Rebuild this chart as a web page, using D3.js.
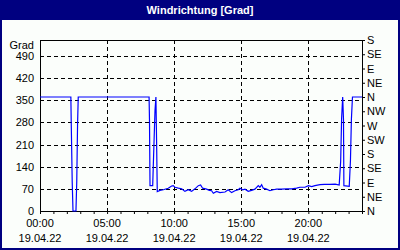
<!DOCTYPE html>
<html>
<head>
<meta charset="utf-8">
<script src="https://cdn.jsdelivr.net/npm/d3@7"></script>
<style>
  body { margin: 0; background: #fff; }
  svg { display: block; font-family: "Liberation Sans", Arial, sans-serif; }
</style>
</head>
<body>
<div id="chart"></div>
<script>
// wind direction readings (hour of day, degrees)
const hours = [
  0, 2.30, 2.33, 2.40, 2.46, 2.68, 2.74, 2.80, 2.85,
  8.13, 8.16, 8.20, 8.40, 8.44, 8.57, 8.64, 8.69, 8.74,
  8.94, 9.19, 9.56, 9.81, 9.93, 10.06, 10.31, 10.56, 10.80, 11.05, 11.30,
  11.55, 11.80, 11.97, 12.12, 12.42, 12.62, 12.79, 12.92, 13.16, 13.41,
  13.79, 14.03, 14.28, 14.53, 14.78, 14.90, 15.10, 15.28, 15.52, 15.77,
  16.02, 16.27, 16.39, 16.52, 16.64, 16.89, 17.14, 17.39, 17.64, 18.01,
  18.38, 18.76, 19.13, 19.37, 19.75, 20.00, 20.25, 20.49, 20.87, 21.20,
  21.60, 22.00, 22.30, 22.41, 22.48, 22.56, 22.62, 22.65, 23.05, 23.14,
  23.21, 23.29, 24
];
const directions = [
  360, 360, 274, 93, 0, 0, 93, 274, 360,
  360, 290, 80, 80, 137, 316, 360, 220, 61,
  65, 67, 72, 79, 80, 75, 72, 70, 62, 67, 62,
  70, 80, 82, 72, 69, 65, 64, 56, 62, 58,
  60, 67, 58, 64, 67, 72, 67, 69, 62, 65,
  69, 80, 75, 83, 72, 69, 64, 67, 69, 69,
  70, 70, 72, 75, 75, 80, 77, 80, 83, 84,
  84, 85, 82, 157, 292, 360, 290, 80, 78, 160,
  290, 360, 360
];

const degreeTicks = [0, 70, 140, 210, 280, 350, 420, 490];
const compassTicks = [0, 45, 90, 135, 180, 225, 270, 315, 360, 405, 450, 495, 540];
const compassLabels = ["N", "NE", "E", "SE", "S", "SW", "W", "NW", "N", "NE", "E", "SE", "S"];
const timeTicks = [0, 5, 10, 15, 20];
const timeLabels = ["00:00", "05:00", "10:00", "15:00", "20:00"];
const dateLabel = "19.04.22";
const chartTitle = "Windrichtung [Grad]";
const unitLabel = "Grad";

const data = hours.map((h, i) => ({ hour: h, value: directions[i] }));

const W = 400, H = 250;
const margin = { top: 40, right: 38, bottom: 39, left: 40 };
const width = W - margin.left - margin.right,
  height = H - margin.top - margin.bottom;

const svg = d3
  .select("#chart")
  .append("svg")
  .attr("width", W)
  .attr("height", H);

// window frame + title bar
svg.append("rect")
  .attr("x", 1).attr("y", 1).attr("width", W - 2).attr("height", H - 2)
  .attr("fill", "#fbfefb").attr("stroke", "#000080").attr("stroke-width", 2);
svg.append("rect")
  .attr("x", 0).attr("y", 0).attr("width", W).attr("height", 20)
  .attr("fill", "#000080");
svg.append("text")
  .attr("x", W / 2).attr("y", 10).attr("dy", "0.35em")
  .attr("text-anchor", "middle")
  .attr("fill", "#fff")
  .style("font-weight", "bold")
  .style("font-size", "11px")
  .text(chartTitle);

const g = svg.append("g")
  .attr("transform", `translate(${margin.left},${margin.top})`);

const x = d3.scaleLinear().domain([0, 24]).range([0, width]);
const y = d3.scaleLinear().domain([0, 540]).range([height, 0]);

// dashed grid
g.append("g")
  .selectAll("line")
  .data(degreeTicks.filter((d) => d > 0))
  .join("line")
  .attr("x1", 0).attr("x2", width)
  .attr("y1", (d) => Math.round(y(d)) + 0.5)
  .attr("y2", (d) => Math.round(y(d)) + 0.5)
  .attr("stroke", "#000").attr("stroke-dasharray", "4,3");
g.append("g")
  .selectAll("line")
  .data(timeTicks.filter((d) => d > 0))
  .join("line")
  .attr("x1", (d) => Math.round(x(d)) + 0.5)
  .attr("x2", (d) => Math.round(x(d)) + 0.5)
  .attr("y1", 0).attr("y2", height)
  .attr("stroke", "#000").attr("stroke-dasharray", "4,3");

// left axis: labels only
const left = g.append("g")
  .call(d3.axisLeft(y).tickValues(degreeTicks).tickSize(0).tickPadding(6));
left.select(".domain").remove();
left.selectAll("text").style("font-size", "11px").attr("fill", "#000");
g.append("text")
  .attr("x", -6).attr("y", 5).attr("dy", "0.35em")
  .attr("text-anchor", "end")
  .style("font-size", "11px")
  .text(unitLabel);

// bottom axis: hourly ticks, labels every 5h
const bottom = g.append("g")
  .attr("transform", `translate(0,${height})`)
  .call(d3.axisBottom(x).tickValues(d3.range(0, 25)).tickSize(3).tickSizeOuter(0).tickFormat(""));
bottom.selectAll("line").attr("stroke", "#000");
bottom.select(".domain").attr("stroke", "#000");

const labels = g.append("g").style("font-size", "11px");
labels.selectAll(".time")
  .data(timeTicks)
  .join("text")
  .attr("class", "time")
  .attr("x", (d) => x(d)).attr("y", height + 12).attr("dy", "0.35em")
  .attr("text-anchor", "middle")
  .text((d, i) => timeLabels[i]);
labels.selectAll(".date")
  .data(timeTicks)
  .join("text")
  .attr("class", "date")
  .attr("x", (d) => x(d)).attr("y", height + 27).attr("dy", "0.35em")
  .attr("text-anchor", "middle")
  .text(dateLabel);

// right axis: compass points
const right = g.append("g")
  .attr("transform", `translate(${width},0)`)
  .call(d3.axisRight(y).tickValues(compassTicks).tickSize(3).tickSizeOuter(0).tickPadding(2)
    .tickFormat((d, i) => compassLabels[i]));
right.selectAll("text").style("font-size", "11px").attr("fill", "#000");

// plot frame
g.append("rect")
  .attr("x", 0.5).attr("y", 0.5).attr("width", width).attr("height", height)
  .attr("fill", "none").attr("stroke", "#000");

// wind direction line
const line = d3.line()
  .x((d) => x(d.hour))
  .y((d) => y(d.value));
g.append("path")
  .datum(data)
  .attr("fill", "none")
  .attr("stroke", "#0000ff")
  .attr("stroke-width", 1.2)
  .attr("d", line);
</script>
</body>
</html>
